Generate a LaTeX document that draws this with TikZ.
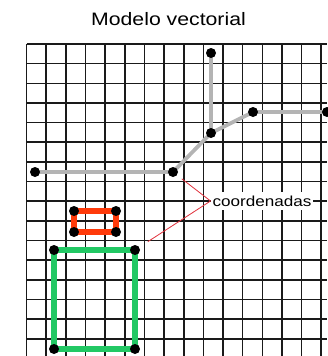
\documentclass[tikz,border=0pt]{standalone}
\usepackage{fontspec}
\setmainfont{Liberation Sans}
\usepackage{tikz}
\usepackage{xcolor}
\usetikzlibrary{positioning}
\definecolor{GridInk}{HTML}{1A1A1A}
\definecolor{Road}{HTML}{B4B4B4}
\definecolor{Parcel}{HTML}{FF3A0A}
\definecolor{Field}{HTML}{22C864}
\definecolor{Leader}{HTML}{E0303A}

\begin{document}
\begin{tikzpicture}[x=1pt,y=-1pt,
  vertex/.style={circle,fill=black,inner sep=0pt,minimum size=10pt},
  gridline/.style={draw=GridInk,line width=1.6pt},
  road/.style={draw=Road,line width=3.8pt},
  parcel/.style={draw=Parcel,line width=5.5pt},
  field/.style={draw=Field,line width=6.5pt},
  leader/.style={draw=Leader,line width=0.8pt},
  title/.style={font=\fontsize{18}{21}\selectfont,xscale=1.18},
  tag/.style={fill=white,inner xsep=1.5pt,minimum height=18pt,font=\fontsize{14.5}{16}\selectfont,xscale=1.18}
]
\useasboundingbox (0,0) rectangle (327,356);
\foreach \i in {0,...,15} {
  \draw[gridline] ({26.5+19.65*\i},44) -- ({26.5+19.65*\i},356);
  \draw[gridline] (26.5,{44+19.65*\i}) -- (327,{44+19.65*\i});
}
\node[title,anchor=base] (head) at (168.5,25) {Modelo vectorial};
\coordinate (g1) at (35,172);
\coordinate (g2) at (173,172);
\coordinate (g3) at (211,133);
\coordinate (g4) at (211,53);
\coordinate (g5) at (253,112);
\coordinate (g6) at (327,112);
\coordinate (r1) at (74,211);
\coordinate (r2) at (116,211);
\coordinate (r3) at (116,232);
\coordinate (r4) at (74,232);
\coordinate (f1) at (54,250);
\coordinate (f2) at (135,250);
\coordinate (f3) at (135,349);
\coordinate (f4) at (54,349);
\foreach \a/\b in {g1/g2,g2/g3,g4/g3,g3/g5,g5/g6} {
  \draw[road] (\a) -- (\b);
}
\draw[parcel] (r1) -- (r2) -- (r3) -- (r4) -- cycle;
\draw[field] (f1) -- (f2) -- (f3) -- (f4) -- cycle;
\foreach \n in {g1,g2,g3,g4,g5,g6,r1,r2,r3,r4,f1,f2,f3,f4} {
  \node[vertex] (v\n) at (\n) {};
}
\node[tag] (lbl) at (262,201) {coordenadas};
\draw[leader,shorten >=6pt] (lbl.west) -- (vg2);
\draw[leader,shorten >=10pt] (lbl.west) -- (vf2);
\end{tikzpicture}
\end{document}
